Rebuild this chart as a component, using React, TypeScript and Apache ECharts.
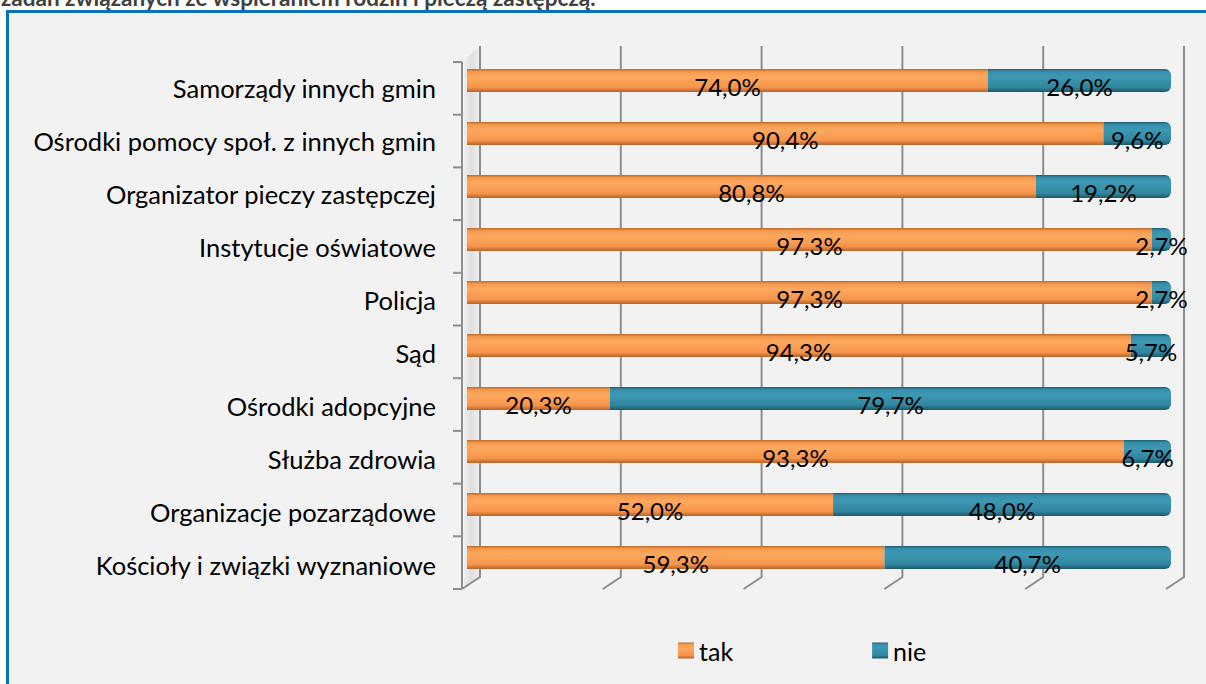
import React, { useEffect, useRef } from "react";
import * as echarts from "echarts";

const categories = [
  "Samorządy innych gmin",
  "Ośrodki pomocy społ. z innych gmin",
  "Organizator pieczy zastępczej",
  "Instytucje oświatowe",
  "Policja",
  "Sąd",
  "Ośrodki adopcyjne",
  "Służba zdrowia",
  "Organizacje pozarządowe",
  "Kościoły i związki wyznaniowe",
];
const takValues = [74.0, 90.4, 80.8, 97.3, 97.3, 94.3, 20.3, 93.3, 52.0, 59.3];
const nieValues = [26.0, 9.6, 19.2, 2.7, 2.7, 5.7, 79.7, 6.7, 48.0, 40.7];
const xTicks = [0, 20, 40, 60, 80, 100];
const titleText = "zadań związanych ze wspieraniem rodzin i pieczą zastępczą.";

const FONT = "Lato";

const orange = new echarts.graphic.LinearGradient(0, 0, 0, 1, [
  { offset: 0, color: "#b86a31" },
  { offset: 0.12, color: "#f5994c" },
  { offset: 0.35, color: "#fda95f" },
  { offset: 0.8, color: "#f7944a" },
  { offset: 1, color: "#b3642c" },
]);
const teal = new echarts.graphic.LinearGradient(0, 0, 0, 1, [
  { offset: 0, color: "#1f5e72" },
  { offset: 0.12, color: "#3790ab" },
  { offset: 0.35, color: "#3d98b3" },
  { offset: 0.8, color: "#31869e" },
  { offset: 1, color: "#1d576a" },
]);

const fmt = (v: number) => v.toFixed(1).replace(".", ",") + "%";

export default function App() {
  const ref = useRef<HTMLDivElement>(null);
  useEffect(() => {
    const chart = echarts.init(ref.current!, null, { renderer: "svg" });
    const labelCfg = {
      show: true,
      position: "inside" as const,
      color: "#000",
      fontSize: 24,
      fontFamily: FONT,
      offset: [0, 6],
      formatter: (p: any) => fmt(p.value),
    };
    chart.setOption({
      animation: false,
      backgroundColor: "#ffffff",
      grid: { left: 467, right: 35, top: 54, bottom: 100, containLabel: false },
      xAxis: {
        type: "value",
        min: 0,
        max: 100,
        interval: 20,
        show: false,
      },
      yAxis: {
        type: "category",
        data: categories,
        inverse: true,
        axisLine: { show: false },
        axisTick: { show: false },
        axisLabel: {
          color: "#000",
          fontSize: 25.5,
          fontFamily: FONT,
          margin: 31,
          formatter: (v: string) => "{a|" + v + "}",
          rich: {
            a: {
              color: "#000",
              fontSize: 25.5,
              fontFamily: FONT,
              padding: [14, 0, 0, 0],
            },
          },
        },
      },
      legend: {
        left: 678,
        top: 638,
        padding: 0,
        itemWidth: 16,
        itemHeight: 16,
        itemGap: 139,
        icon: "rect",
        textStyle: { fontSize: 25, fontFamily: FONT, color: "#000" },
        data: ["tak", "nie"],
      },
      series: [
        {
          name: "tak",
          type: "bar",
          stack: "s",
          barWidth: 23,
          data: takValues,
          itemStyle: { color: orange },
          label: labelCfg,
          z: 3,
        },
        {
          name: "nie",
          type: "bar",
          stack: "s",
          barWidth: 23,
          data: nieValues,
          itemStyle: { color: teal, borderRadius: [0, 6, 6, 0] },
          label: labelCfg,
          z: 3,
        },
      ],
    });

    // 3D-like decorations, placed from the axis scales
    const xs = xTicks.map((v) => chart.convertToPixel({ xAxisIndex: 0 }, v) as number);
    const yFirst = chart.convertToPixel({ yAxisIndex: 0 }, categories[0]) as number;
    const yLast = chart.convertToPixel({ yAxisIndex: 0 }, categories[categories.length - 1]) as number;
    const band = (yLast - yFirst) / (categories.length - 1);
    const gTop = yFirst - band / 2;
    const gBot = yLast + band / 2;
    const x0 = xs[0];

    const grey = "#8e8e8e";
    const elements: any[] = [
      {
        type: "rect",
        z: -10,
        shape: { x: 7.5, y: 11.5, width: 1250, height: 720 },
        style: { fill: "#f2f2f2", stroke: "#0a70c0", lineWidth: 3 },
      },
      {
        type: "text",
        z: 10,
        x: 1,
        y: 9,
        style: {
          text: titleText,
          fill: "#404040",
          font: `bold 22.5px ${FONT}`,
          verticalAlign: "bottom",
        },
      },
    ];

    const frontTop = gTop + 8;
    const frontBot = gBot + 5;
    const backTop = gTop - 8;
    const backBot = gBot - 7;
    // left wall
    elements.push({
      type: "polygon",
      z: 0,
      shape: {
        points: [
          [x0 - 5, frontTop],
          [x0 + 13, backTop],
          [x0 + 13, backBot],
          [x0 - 5, frontBot],
        ],
      },
      style: {
        fill: new echarts.graphic.LinearGradient(0, 0, 1, 0, [
          { offset: 0, color: "#f4f4f4" },
          { offset: 0.5, color: "#dedede" },
          { offset: 1, color: "#efefef" },
        ]),
      },
    });
    elements.push({
      type: "line",
      z: 1,
      shape: { x1: x0 - 5, y1: frontTop, x2: x0 - 5, y2: frontBot },
      style: { stroke: grey, lineWidth: 2 },
    });
    const nT = categories.length;
    for (let k = 0; k <= nT; k++) {
      const y = frontTop + ((frontBot - frontTop) * k) / nT;
      elements.push({
        type: "line",
        z: 1,
        shape: { x1: x0 - 14, y1: y, x2: x0 - 5, y2: y },
        style: { stroke: grey, lineWidth: 2 },
      });
    }
    xs.forEach((x) => {
      elements.push({
        type: "polyline",
        z: 1,
        shape: {
          points: [
            [x + 13, backTop],
            [x + 13, backBot],
            [x - 5, frontBot],
          ],
        },
        style: { stroke: grey, lineWidth: 2, fill: null },
      });
    });

    chart.setOption({ graphic: elements });
    return () => chart.dispose();
  }, []);
  return (
    <div
      ref={ref}
      style={{ position: "fixed", left: 0, top: 0, width: 1206, height: 684 }}
    />
  );
}
